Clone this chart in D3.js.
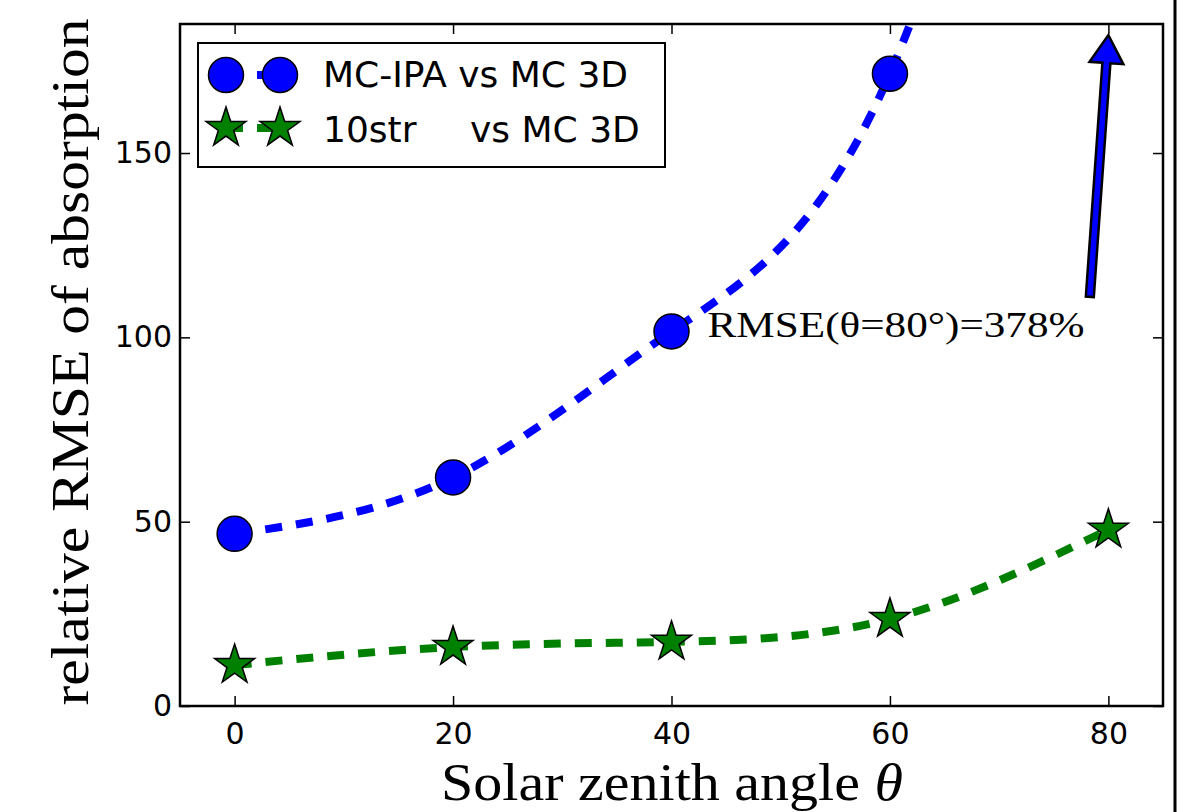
<!DOCTYPE html>
<html>
<head>
<meta charset="utf-8">
<script src="https://cdn.jsdelivr.net/npm/d3@7"></script>
<style>
  body { margin: 0; background: #fff; }
  .tick text { font-family: "DejaVu Sans", sans-serif; font-size: 30px; fill: #000; }
  .tick line { stroke: #000; stroke-width: 1.5; }
</style>
</head>
<body>
<div id="chart"></div>
<script>
// data
var angles = [0, 20, 40, 60, 80];
var ipaValues = [46.7, 62.0, 101.6, 171.5, 378];
var strValues = [11.1, 16.0, 17.4, 23.6, 47.8];
var xTicks = [0, 20, 40, 60, 80];
var yTicks = [0, 50, 100, 150];
var seriesNames = ["MC-IPA vs MC 3D", "10str", "vs MC 3D"];
var annotation = "RMSE(\u03b8=80\u00b0)=378%";

var svgWidth = 1194;
var svgHeight = 812;

var margin = { top: 24, right: 31, bottom: 106, left: 180 };
var width = svgWidth - margin.left - margin.right;
var height = svgHeight - margin.top - margin.bottom;

var svg = d3.select("#chart")
  .append("svg")
  .attr("width", svgWidth)
  .attr("height", svgHeight);

// slide border on the right
svg.append("line")
  .attr("x1", 1175).attr("x2", 1175)
  .attr("y1", 0).attr("y2", svgHeight)
  .attr("stroke", "#000")
  .attr("stroke-width", 3);

var chartGroup = svg.append("g")
  .attr("transform", `translate(${margin.left}, ${margin.top})`);

var xScale = d3.scaleLinear().domain([-5, 85]).range([0, width]);
var yScale = d3.scaleLinear().domain([0, 185]).range([height, 0]);

chartGroup.append("clipPath")
  .attr("id", "plotclip")
  .append("rect")
  .attr("width", width)
  .attr("height", height);

// axes, ticks pointing inward
chartGroup.append("g")
  .attr("transform", `translate(0, ${height})`)
  .call(d3.axisBottom(xScale).tickValues(xTicks).tickSize(-10).tickPadding(17))
  .call(g => g.select(".domain").remove());
chartGroup.append("g")
  .call(d3.axisTop(xScale).tickValues(xTicks).tickSize(-10).tickFormat(""))
  .call(g => g.select(".domain").remove());
chartGroup.append("g")
  .call(d3.axisLeft(yScale).tickValues(yTicks).tickSize(-10).tickPadding(8))
  .call(g => g.select(".domain").remove());
chartGroup.append("g")
  .attr("transform", `translate(${width}, 0)`)
  .call(d3.axisRight(yScale).tickValues(yTicks).tickSize(-10).tickFormat(""))
  .call(g => g.select(".domain").remove());

var ipaData = angles.map((a, i) => [a, ipaValues[i]]);
var strData = angles.map((a, i) => [a, strValues[i]]);

var line = d3.line()
  .x(d => xScale(d[0]))
  .y(d => yScale(d[1]))
  .curve(d3.curveNatural);

var plot = chartGroup.append("g").attr("clip-path", "url(#plotclip)");

plot.append("path")
  .datum(ipaData)
  .attr("d", line)
  .attr("fill", "none")
  .attr("stroke", "#0000ff")
  .attr("stroke-width", 8)
  .attr("stroke-dasharray", "17,14");

plot.append("path")
  .datum(strData)
  .attr("d", line)
  .attr("fill", "none")
  .attr("stroke", "#008000")
  .attr("stroke-width", 8)
  .attr("stroke-dasharray", "17,14");

var star = d3.symbol().type(d3.symbolStar).size(495);

plot.selectAll(".ipa")
  .data(ipaData)
  .enter()
  .append("circle")
  .attr("cx", d => xScale(d[0]))
  .attr("cy", d => yScale(d[1]))
  .attr("r", 17.5)
  .attr("fill", "#0000ff")
  .attr("stroke", "#000")
  .attr("stroke-width", 1.5);

plot.selectAll(".str")
  .data(strData)
  .enter()
  .append("path")
  .attr("d", star)
  .attr("transform", d => `translate(${xScale(d[0])}, ${yScale(d[1])})`)
  .attr("fill", "#008000")
  .attr("stroke", "#000")
  .attr("stroke-width", 1.5);

// frame
chartGroup.append("rect")
  .attr("width", width)
  .attr("height", height)
  .attr("fill", "none")
  .attr("stroke", "#000")
  .attr("stroke-width", 2.5);

// arrow annotation
var tail = [xScale(78.3), yScale(111)];
var tip = [xScale(80), yScale(182)];
var dx = tip[0] - tail[0], dy = tip[1] - tail[1];
var len = Math.sqrt(dx * dx + dy * dy);
var ux = dx / len, uy = dy / len, px = -uy, py = ux;
var sw = 4, hw = 17, hl = 28;
var bx = tip[0] - ux * hl, by = tip[1] - uy * hl;
var arrowPts = [
  [tail[0] + px * sw, tail[1] + py * sw],
  [bx + px * sw, by + py * sw],
  [bx + px * hw, by + py * hw],
  tip,
  [bx - px * hw, by - py * hw],
  [bx - px * sw, by - py * sw],
  [tail[0] - px * sw, tail[1] - py * sw]
];
chartGroup.append("path")
  .attr("d", "M" + arrowPts.map(p => p.join(",")).join("L") + "Z")
  .attr("fill", "#0000ff")
  .attr("stroke", "#000")
  .attr("stroke-width", 2.5)
  .attr("stroke-linejoin", "miter");

chartGroup.append("text")
  .attr("x", xScale(43.3))
  .attr("y", yScale(100.1))
  .attr("font-family", "Liberation Serif, serif")
  .attr("font-size", "36px")
  .attr("textLength", 377)
  .attr("lengthAdjust", "spacingAndGlyphs")
  .text(annotation);

// legend
var legend = svg.append("g");
legend.append("rect")
  .attr("x", 198).attr("y", 43)
  .attr("width", 467).attr("height", 124)
  .attr("fill", "#fff")
  .attr("stroke", "#000")
  .attr("stroke-width", 2);

legend.append("line")
  .attr("x1", 226).attr("x2", 280).attr("y1", 75).attr("y2", 75)
  .attr("stroke", "#0000ff").attr("stroke-width", 8)
  .attr("stroke-dasharray", "17,14");
legend.append("line")
  .attr("x1", 226).attr("x2", 280).attr("y1", 128).attr("y2", 128)
  .attr("stroke", "#008000").attr("stroke-width", 8)
  .attr("stroke-dasharray", "17,14");

[226, 280].forEach(function(cx) {
  legend.append("circle")
    .attr("cx", cx).attr("cy", 75).attr("r", 17.5)
    .attr("fill", "#0000ff").attr("stroke", "#000").attr("stroke-width", 1.5);
  legend.append("path")
    .attr("d", star)
    .attr("transform", `translate(${cx}, 128)`)
    .attr("fill", "#008000").attr("stroke", "#000").attr("stroke-width", 1.5);
});

legend.append("text")
  .attr("x", 323).attr("y", 87)
  .attr("font-family", "DejaVu Sans, sans-serif")
  .attr("font-size", "36px")
  .text(seriesNames[0]);
legend.append("text")
  .attr("x", 323).attr("y", 142)
  .attr("font-family", "DejaVu Sans, sans-serif")
  .attr("font-size", "36px")
  .text(seriesNames[1]);
legend.append("text")
  .attr("x", 470).attr("y", 142)
  .attr("font-family", "DejaVu Sans, sans-serif")
  .attr("font-size", "36px")
  .text(seriesNames[2]);

// axis labels
var xLabel = svg.append("text")
  .attr("x", 672).attr("y", 800)
  .attr("text-anchor", "middle")
  .attr("font-family", "Liberation Serif, serif")
  .attr("font-size", "52px")
  .attr("textLength", 462)
  .attr("lengthAdjust", "spacingAndGlyphs");
xLabel.append("tspan").text("Solar zenith angle ");
xLabel.append("tspan").attr("font-style", "italic").text("\u03b8");

svg.append("text")
  .attr("transform", "translate(88, 362) rotate(-90)")
  .attr("text-anchor", "middle")
  .attr("font-family", "Liberation Serif, serif")
  .attr("font-size", "52px")
  .attr("textLength", 687)
  .attr("lengthAdjust", "spacingAndGlyphs")
  .text("relative RMSE of absorption");
</script>
</body>
</html>
